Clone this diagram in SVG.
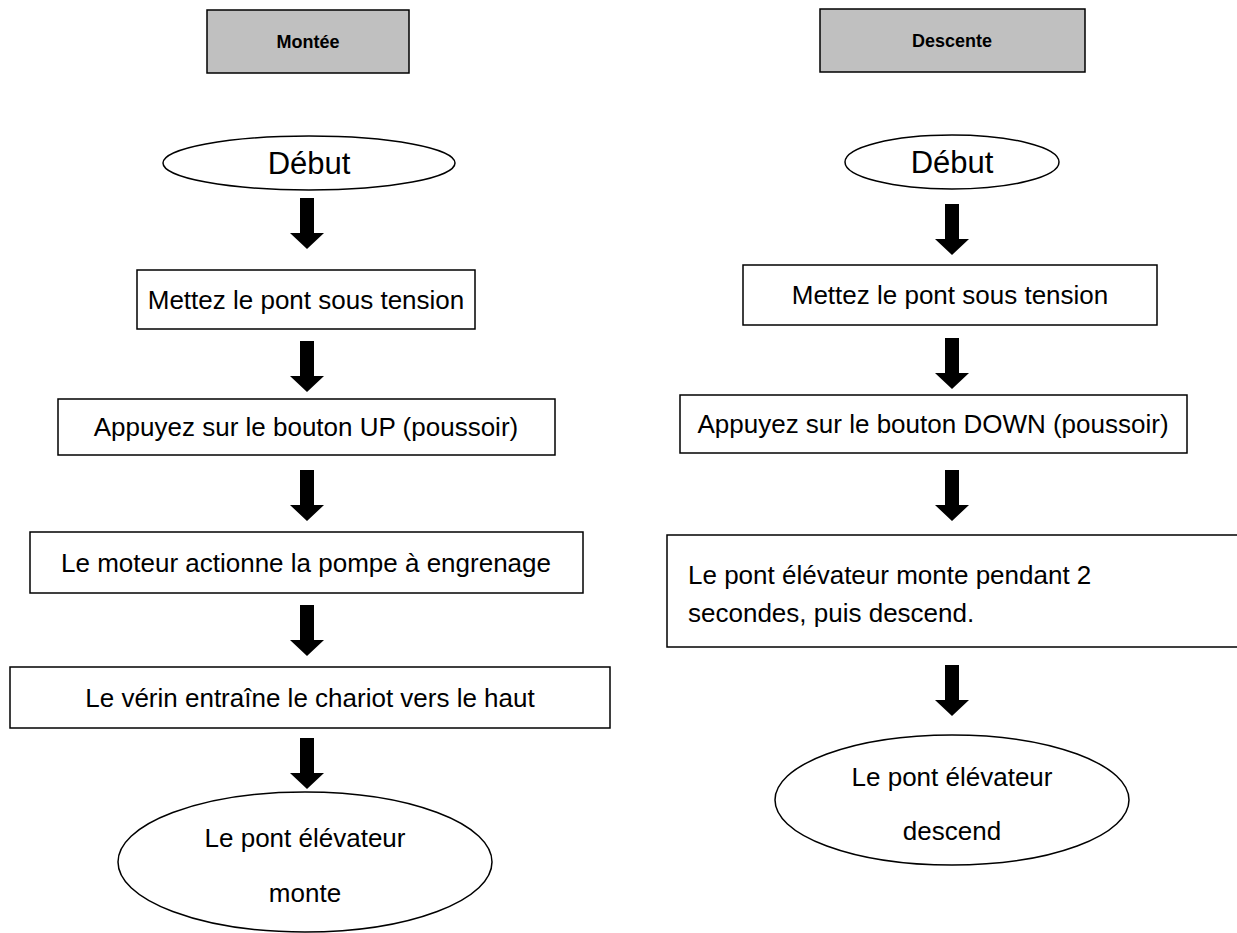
<svg xmlns="http://www.w3.org/2000/svg" width="1237" height="933" viewBox="0 0 1237 933">
<defs>
<style>
.hdr{fill:#c0c0c0;stroke:#000;stroke-width:1.5}
.box{fill:#fff;stroke:#000;stroke-width:1.5}
.ell{fill:#fff;stroke:#000;stroke-width:1.5}
.ht{font-family:"Liberation Sans",Arial,sans-serif;font-weight:bold;font-size:18px;fill:#000;text-anchor:middle}
.t{font-family:"Liberation Sans",Arial,sans-serif;font-size:26px;fill:#000;text-anchor:middle}
.tl{font-family:"Liberation Sans",Arial,sans-serif;font-size:26px;fill:#000}
.big{font-family:"Liberation Sans",Arial,sans-serif;font-size:31px;fill:#000;text-anchor:middle}
.arr{fill:#000}
</style>
<path id="a" d="M-7,0 H7 V35 H17 L0,51 L-17,35 H-7 Z"/>
</defs>
<rect width="1237" height="933" fill="#fff"/>
<g id="header-montee"><rect class="hdr" x="207" y="10" width="202" height="63"/><text class="ht" x="308" y="48">Montée</text></g>
<g id="header-descente"><rect class="hdr" x="820" y="9" width="265" height="63"/><text class="ht" x="952" y="47">Descente</text></g>

<g id="l-debut"><ellipse class="ell" cx="309" cy="163" rx="146" ry="27"/><text class="big" x="309" y="174">Début</text></g>
<g id="l-tension"><rect class="box" x="137" y="270" width="338" height="59"/><text class="t" x="306" y="309">Mettez le pont sous tension</text></g>
<g id="l-up"><rect class="box" x="58" y="399" width="497" height="56"/><text class="t" x="306" y="436">Appuyez sur le bouton UP (poussoir)</text></g>
<g id="l-moteur"><rect class="box" x="30" y="532" width="553" height="61"/><text class="t" x="306" y="572">Le moteur actionne la pompe à engrenage</text></g>
<g id="l-verin"><rect class="box" x="10" y="667" width="600" height="61"/><text class="t" x="310" y="707">Le vérin entraîne le chariot vers le haut</text></g>
<g id="l-monte"><ellipse class="ell" cx="305" cy="862" rx="187" ry="70"/><text class="t" x="305" y="847">Le pont élévateur</text><text class="t" x="305" y="902">monte</text></g>

<g id="r-debut"><ellipse class="ell" cx="952" cy="162" rx="107" ry="27"/><text class="big" x="952" y="173">Début</text></g>
<g id="r-tension"><rect class="box" x="743" y="265" width="414" height="60"/><text class="t" x="950" y="304">Mettez le pont sous tension</text></g>
<g id="r-down"><rect class="box" x="680" y="395" width="507" height="58"/><text class="t" x="933" y="433">Appuyez sur le bouton DOWN (poussoir)</text></g>
<g id="r-2s"><rect class="box" x="667" y="535" width="580" height="112"/><text class="tl" x="688" y="584">Le pont élévateur monte pendant 2</text><text class="tl" x="688" y="622">secondes, puis descend.</text></g>
<g id="r-descend"><ellipse class="ell" cx="952" cy="800" rx="177" ry="65"/><text class="t" x="952" y="786">Le pont élévateur</text><text class="t" x="952" y="840">descend</text></g>

<g id="connectors">
<use href="#a" class="arr" x="307" y="198"/>
<use href="#a" class="arr" x="307" y="341"/>
<use href="#a" class="arr" x="307" y="470"/>
<use href="#a" class="arr" x="307" y="605"/>
<use href="#a" class="arr" x="307" y="738"/>
<use href="#a" class="arr" x="952" y="204"/>
<use href="#a" class="arr" x="952" y="338"/>
<use href="#a" class="arr" x="952" y="470"/>
<use href="#a" class="arr" x="952" y="665"/>
</g>
</svg>
